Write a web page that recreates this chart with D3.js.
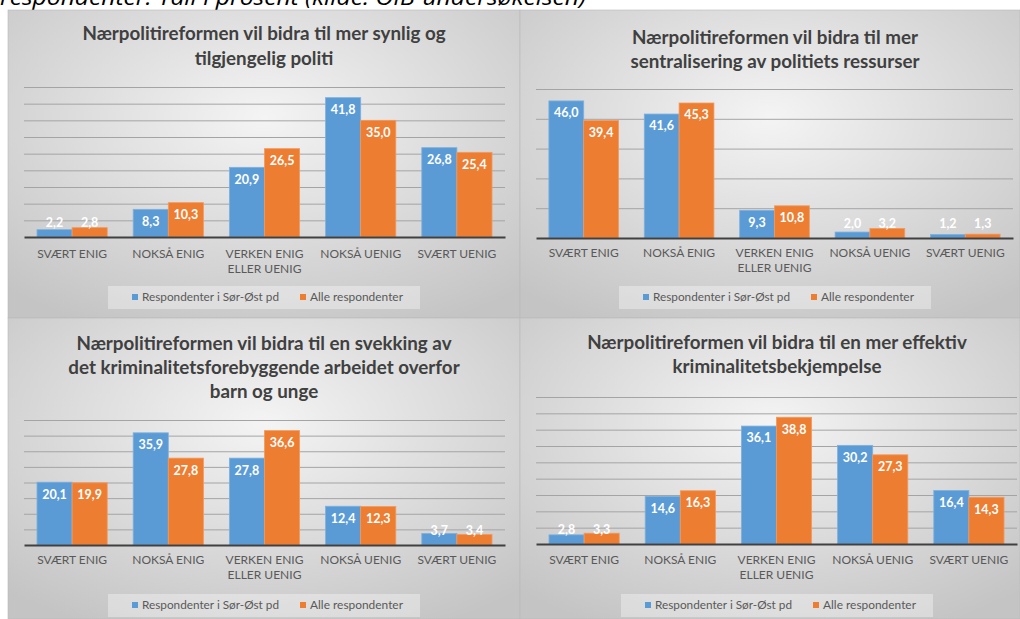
<!DOCTYPE html>
<html><head><meta charset="utf-8">
<script src="https://cdn.jsdelivr.net/npm/d3@7"></script>
<style>body{margin:0;background:#fff;overflow:hidden} svg{display:block}</style>
</head><body><svg id="c" width="1020" height="619"></svg>
<script>
const categories = ["SVÆRT ENIG","NOKSÅ ENIG","VERKEN ENIG\nELLER UENIG","NOKSÅ UENIG","SVÆRT UENIG"];
const seriesNames = ["Respondenter i Sør-Øst pd","Alle respondenter"];
const seriesColors = ["#5B9BD5","#ED7D31"];
const title1 = ["Nærpolitireformen vil bidra til mer synlig og","tilgjengelig politi"];
const title2 = ["Nærpolitireformen vil bidra til mer","sentralisering av politiets ressurser"];
const title3 = ["Nærpolitireformen vil bidra til en svekking av","det kriminalitetsforebyggende arbeidet overfor","barn og unge"];
const title4 = ["Nærpolitireformen vil bidra til en mer effektiv","kriminalitetsbekjempelse"];
const sorOst1 = [2.2, 8.3, 20.9, 41.8, 26.8];
const alle1   = [2.8, 10.3, 26.5, 35.0, 25.4];
const sorOst2 = [46.0, 41.6, 9.3, 2.0, 1.2];
const alle2   = [39.4, 45.3, 10.8, 3.2, 1.3];
const sorOst3 = [20.1, 35.9, 27.8, 12.4, 3.7];
const alle3   = [19.9, 27.8, 36.6, 12.3, 3.4];
const sorOst4 = [2.8, 14.6, 36.1, 30.2, 16.4];
const alle4   = [3.3, 16.3, 38.8, 27.3, 14.3];
const yMax  = [45, 50, 40, 45];
const yStep = [5, 10, 5, 5];
const caption = "respondenter. Tall i prosent (kilde: OIB-undersøkelsen)";

// layout (positions only)
const panels = [
  {x:8,   y:10,  w:512, h:308, title:title1, s:[sorOst1,alle1], tx:256, ty:[23,48],    pl:16, pr:497, pt:77,  pb:227, cy:244, lx:256, ly:287},
  {x:520, y:10,  w:500, h:308, title:title2, s:[sorOst2,alle2], tx:255, ty:[27,51],    pl:16, pr:493, pt:79,  pb:228, cy:243, lx:255, ly:287},
  {x:8,   y:318, w:512, h:301, title:title3, s:[sorOst3,alle3], tx:256, ty:[25,49,73], pl:16, pr:497, pt:102, pb:227, cy:242, lx:256, ly:287},
  {x:520, y:318, w:500, h:301, title:title4, s:[sorOst4,alle4], tx:257, ty:[24,48],    pl:16, pr:497, pt:79,  pb:226, cy:242, lx:257, ly:287}
];

const svg = d3.select("#c");
const defs = svg.append("defs");
const grad = defs.append("radialGradient").attr("id","bg").attr("cx","50%").attr("cy","35%").attr("r","75%");
grad.append("stop").attr("offset","0%").attr("stop-color","#f4f4f4");
grad.append("stop").attr("offset","100%").attr("stop-color","#c4c4c4");

svg.append("text").attr("x",0).attr("y",5)
  .attr("font-family","Open Sans").attr("font-style","italic").attr("font-size",21)
  .attr("textLength",586).attr("lengthAdjust","spacingAndGlyphs")
  .attr("fill","#000").text(caption);

panels.forEach((p,pi)=>{
  const g = svg.append("g").attr("transform",`translate(${p.x},${p.y})`);
  g.append("rect").attr("width",p.w).attr("height",p.h).attr("fill","url(#bg)")
    .attr("stroke","#b8b8b8").attr("stroke-width",0.6);
  // title
  const t = g.append("text").attr("text-anchor","middle").attr("font-family","Lato")
    .attr("font-weight","bold").attr("font-size",18.8).attr("fill","#404040");
  p.title.forEach((line,i)=>t.append("tspan").attr("x",p.tx).attr("y",p.ty[i]).attr("dy","0.35em").text(line));

  const y = d3.scaleLinear().domain([0,yMax[pi]]).range([p.pb,p.pt]);
  const x0 = d3.scaleBand().domain(categories).range([p.pl,p.pr]).paddingInner(0.27).paddingOuter(0.135);
  const x1 = d3.scaleBand().domain([0,1]).range([0,x0.bandwidth()]);

  // gridlines
  const grid = g.append("g").attr("transform",`translate(${p.pl},0)`)
    .call(d3.axisLeft(y).tickValues(d3.range(yStep[pi], yMax[pi]+0.001, yStep[pi])).tickSize(-(p.pr-p.pl)).tickFormat(""));
  grid.select(".domain").remove();
  grid.selectAll(".tick line").attr("stroke","#a4a4a4").attr("stroke-width",1);

  // bars
  categories.forEach((c,ci)=>{
    [0,1].forEach(si=>{
      const v = p.s[si][ci];
      const bx = x0(c)+x1(si);
      g.append("rect").attr("x",bx).attr("y",y(v)).attr("width",x1.bandwidth()).attr("height",p.pb-y(v))
        .attr("fill",seriesColors[si]).attr("stroke",si===0?"#7fb1de":"#f29a5e").attr("stroke-width",0.8);
      const ly = Math.min(y(v)+12, p.pb-14);
      g.append("text").attr("x",bx+x1.bandwidth()/2).attr("y",ly).attr("dy","0.35em")
        .attr("text-anchor","middle").attr("font-family","Lato").attr("font-weight","bold")
        .attr("font-size",12.5).attr("fill","#fff").text(d3.format(".1f")(v).replace(".",","));
    });
  });

  // baseline + category axis
  const ax = g.append("g").attr("transform",`translate(0,${p.pb})`).call(d3.axisBottom(x0).tickSize(0));
  ax.select(".domain").attr("stroke","#404040").attr("stroke-width",2);
  ax.selectAll(".tick text").each(function(d){
    const el = d3.select(this).text(null).attr("y",0).attr("dy",null)
      .attr("font-family","Lato").attr("font-size",12).attr("fill","#595959");
    d.split("\n").forEach((line,i)=>el.append("tspan").attr("x",0).attr("y",p.cy-p.pb+i*15).attr("dy","0.35em").text(line));
  });

  // legend
  const lg = g.append("g");
  lg.append("rect").attr("x",p.lx-156).attr("y",p.ly-11).attr("width",312).attr("height",23)
    .attr("fill","#ffffff").attr("fill-opacity",0.35);
  const items = [{dx:-132, len:137},{dx:36, len:93}];
  seriesNames.forEach((n,i)=>{
    lg.append("rect").attr("x",p.lx+items[i].dx).attr("y",p.ly-3).attr("width",6).attr("height",6).attr("fill",seriesColors[i]);
    lg.append("text").attr("x",p.lx+items[i].dx+10).attr("y",p.ly).attr("dy","0.35em")
      .attr("textLength",items[i].len).attr("lengthAdjust","spacingAndGlyphs")
      .attr("font-family","Lato").attr("font-size",12).attr("fill","#595959").text(n);
  });
});
</script></body></html>
